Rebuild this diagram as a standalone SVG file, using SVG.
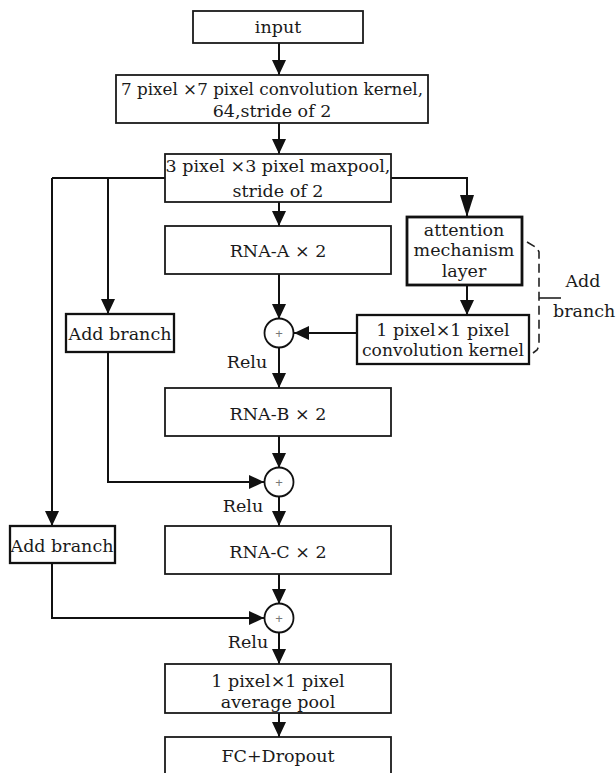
<svg xmlns="http://www.w3.org/2000/svg" width="616" height="773" viewBox="0 0 616 773">
  <style>
    .box { fill: #ffffff; stroke: #1a1a1a; stroke-width: 1.8; }
    .bold { fill: #ffffff; stroke: #111111; stroke-width: 2.8; }
    .mid { fill: #ffffff; stroke: #111111; stroke-width: 2.3; }
    .lbl { font-family: "DejaVu Serif", "Liberation Serif", serif; font-size: 17.5px; fill: #1a1a1a; text-anchor: middle; }
    .left { text-anchor: start; }
    .wire { fill: none; stroke: #111111; stroke-width: 2; }
    .arrow { fill: none; stroke: #111111; stroke-width: 2; marker-end: url(#head); }
    .arrowLong { fill: none; stroke: #111111; stroke-width: 2; marker-end: url(#headLong); }
    .sum { fill: #ffffff; stroke: #111111; stroke-width: 1.8; }
    .plus { font-family: "Liberation Sans", sans-serif; font-size: 13px; fill: #777777; text-anchor: middle; }
    .dash { fill: none; stroke: #222222; stroke-width: 1.6; stroke-dasharray: 9 5; }
  </style>
  <defs>
    <marker id="head" viewBox="0 0 15 14" refX="15" refY="7" markerWidth="15" markerHeight="14" markerUnits="userSpaceOnUse" orient="auto">
      <path d="M0,0 L15,7 L0,14 z" fill="#111111"/>
    </marker>
    <marker id="headLong" viewBox="0 0 22 14" refX="22" refY="7" markerWidth="22" markerHeight="14" markerUnits="userSpaceOnUse" orient="auto">
      <path d="M0,0 L22,7 L0,14 z" fill="#111111"/>
    </marker>
  </defs>

  <rect width="616" height="773" fill="#ffffff"/>

  <!-- connectors -->
  <g id="connectors">
    <line class="arrow" x1="279" y1="43" x2="279" y2="75"/>
    <line class="arrow" x1="279" y1="123" x2="279" y2="154"/>
    <line class="arrow" x1="279" y1="202" x2="279" y2="226"/>
    <!-- left branches from maxpool -->
    <polyline class="wire" points="165,178 52,178"/>
    <polyline class="arrow" points="52,178 52,526"/>
    <polyline class="arrow" points="108,178 108,314"/>
    <!-- attention branch -->
    <polyline class="arrowLong" points="391,178 467,178 467,217"/>
    <line class="arrow" x1="467" y1="285" x2="467" y2="315"/>
    <line class="arrow" x1="357" y1="333" x2="294" y2="333"/>
    <!-- main trunk -->
    <line class="arrow" x1="279" y1="274" x2="279" y2="319"/>
    <line class="arrow" x1="279" y1="347" x2="279" y2="388"/>
    <line class="arrow" x1="279" y1="436" x2="279" y2="468"/>
    <line class="arrow" x1="279" y1="496" x2="279" y2="526"/>
    <line class="arrow" x1="279" y1="574" x2="279" y2="604"/>
    <line class="arrow" x1="279" y1="632" x2="279" y2="664"/>
    <line class="arrow" x1="279" y1="713" x2="279" y2="737"/>
    <!-- add-branch returns -->
    <polyline class="arrow" points="108,352 108,482 264,482"/>
    <polyline class="arrow" points="52,563 52,618 264,618"/>
    <!-- dashed bracket grouping the attention branch -->
    <path class="dash" d="M527,242 L537,248 L539,252 L539,346 L537,350 L533,353"/>
    <line x1="539" y1="298" x2="561" y2="298" stroke="#222222" stroke-width="1.6"/>
  </g>

  <g id="input">
    <rect class="box" x="193" y="11" width="170" height="32"/>
    <text class="lbl" x="278" y="33">input</text>
  </g>

  <g id="conv7">
    <rect class="box" x="116" y="75" width="312" height="48"/>
    <text class="lbl" x="272" y="95" textLength="302" lengthAdjust="spacingAndGlyphs">7 pixel ×7 pixel convolution kernel,</text>
    <text class="lbl" x="272" y="117">64,stride of 2</text>
  </g>

  <g id="maxpool">
    <rect class="box" x="165" y="154" width="226" height="48"/>
    <text class="lbl" x="278" y="172">3 pixel ×3 pixel maxpool,</text>
    <text class="lbl" x="278" y="197">stride of 2</text>
  </g>

  <g id="rna-a">
    <rect class="box" x="165" y="226" width="226" height="48"/>
    <text class="lbl" x="278" y="257">RNA-A × 2</text>
  </g>

  <g id="attention">
    <rect class="bold" x="407" y="217" width="115" height="68"/>
    <text class="lbl" x="464" y="235.5">attention</text>
    <text class="lbl" x="464" y="256">mechanism</text>
    <text class="lbl" x="464" y="276.5">layer</text>
  </g>

  <g id="conv1">
    <rect class="mid" x="357" y="315" width="172" height="49"/>
    <text class="lbl" x="443" y="335.5">1 pixel×1 pixel</text>
    <text class="lbl" x="443" y="356" textLength="162" lengthAdjust="spacingAndGlyphs">convolution kernel</text>
  </g>

  <g id="add-branch-label">
    <text class="lbl" x="583" y="287">Add</text>
    <text class="lbl left" x="553" y="317">branch</text>
  </g>

  <g id="add-branch-1">
    <rect class="mid" x="66" y="314" width="108" height="38"/>
    <text class="lbl" x="120" y="340">Add branch</text>
  </g>

  <g id="sum-1">
    <circle class="sum" cx="279" cy="333" r="14.5"/>
    <text class="plus" x="279" y="338">+</text>
    <text class="lbl" x="247" y="368">Relu</text>
  </g>

  <g id="rna-b">
    <rect class="box" x="165" y="388" width="226" height="48"/>
    <text class="lbl" x="278" y="420">RNA-B × 2</text>
  </g>

  <g id="sum-2">
    <circle class="sum" cx="279" cy="482" r="14.5"/>
    <text class="plus" x="279" y="487">+</text>
    <text class="lbl" x="243" y="512">Relu</text>
  </g>

  <g id="add-branch-2">
    <rect class="mid" x="10" y="526" width="105" height="37"/>
    <text class="lbl" x="62" y="552">Add branch</text>
  </g>

  <g id="rna-c">
    <rect class="box" x="165" y="526" width="226" height="48"/>
    <text class="lbl" x="278" y="558">RNA-C × 2</text>
  </g>

  <g id="sum-3">
    <circle class="sum" cx="279" cy="618" r="14.5"/>
    <text class="plus" x="279" y="623">+</text>
    <text class="lbl" x="248" y="648">Relu</text>
  </g>

  <g id="avgpool">
    <rect class="box" x="165" y="664" width="226" height="49"/>
    <text class="lbl" x="278" y="687">1 pixel×1 pixel</text>
    <text class="lbl" x="278" y="707.5">average pool</text>
  </g>

  <g id="fc">
    <rect class="box" x="165" y="737" width="226" height="50"/>
    <text class="lbl" x="278" y="762">FC+Dropout</text>
  </g>
</svg>
